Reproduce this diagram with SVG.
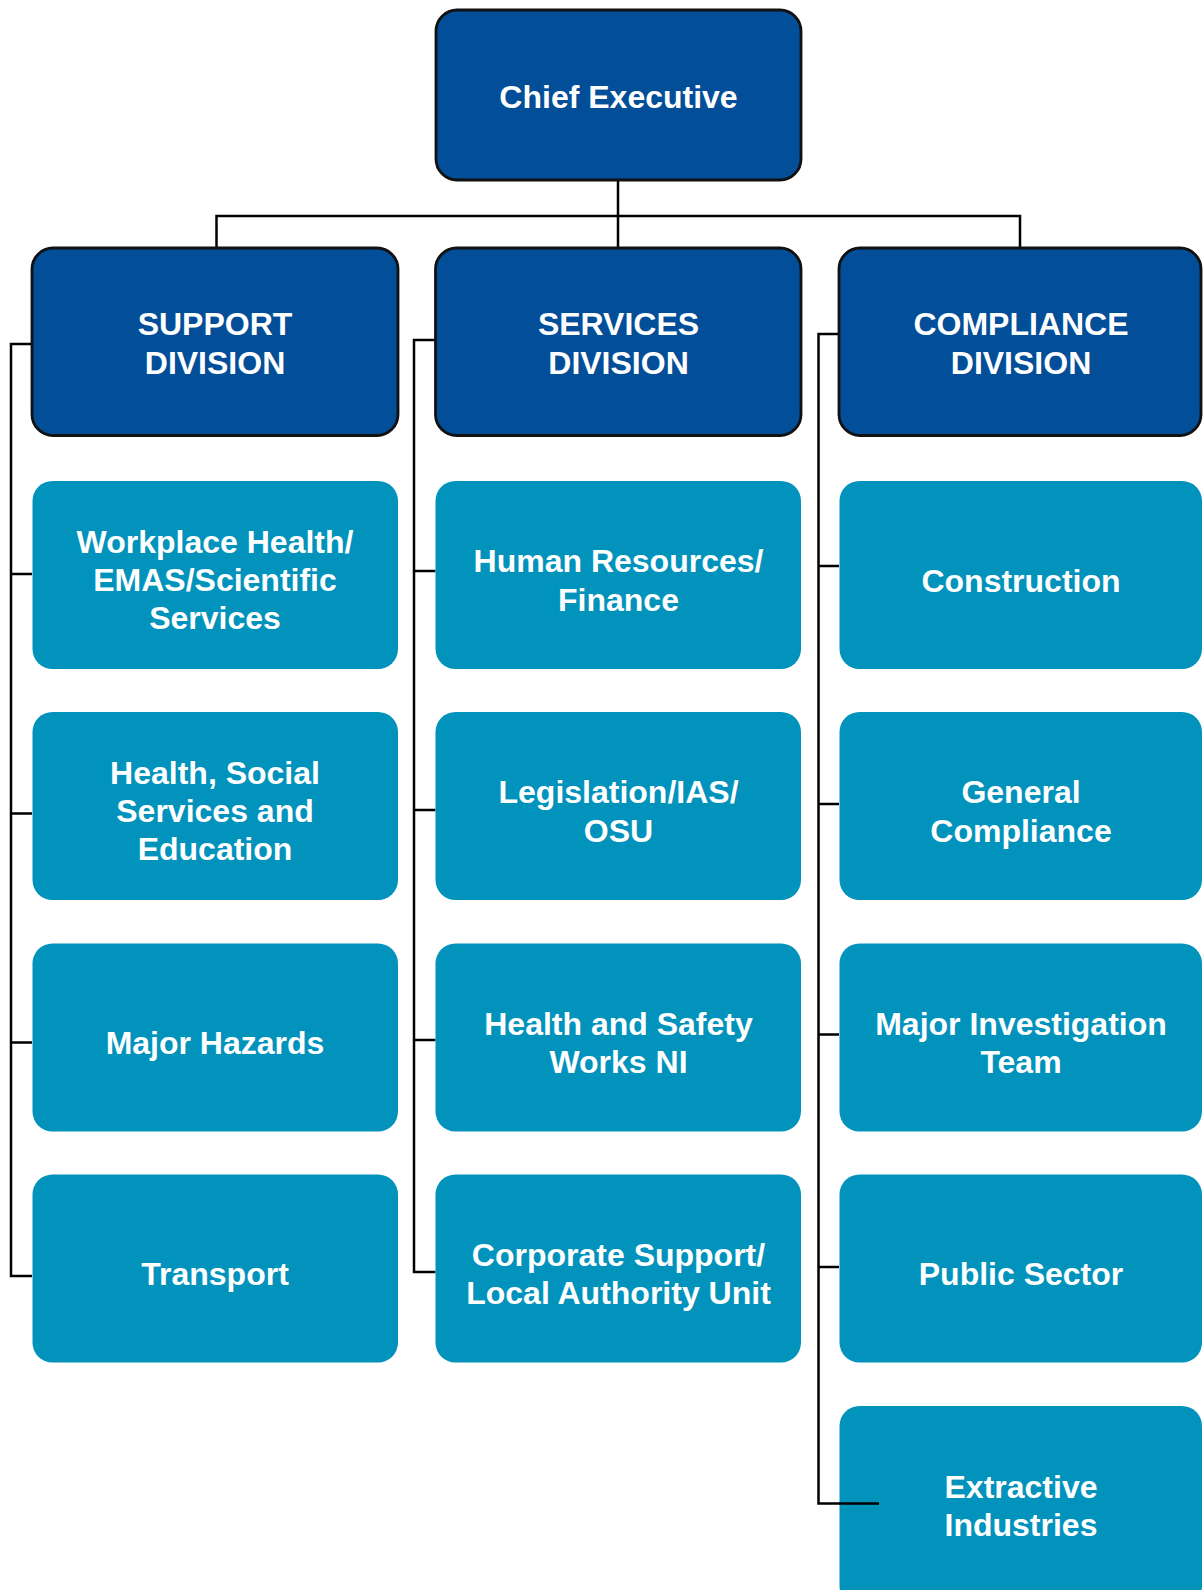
<svg xmlns="http://www.w3.org/2000/svg" width="1204" height="1590" viewBox="0 0 1204 1590">
  <style>
    .dark { fill: #034e98; stroke: #111; stroke-width: 2.8; }
    .unit { fill: #0293bc; }
    .lbl { font-family: "Liberation Sans", Arial, Helvetica, sans-serif; font-weight: bold; font-size: 32px; fill: #fff; text-anchor: middle; }
    .wire { fill: none; stroke: #000; stroke-width: 2.5; }
  </style>
  <rect width="1204" height="1590" fill="#fff"/>

  <!-- reporting lines -->
  <g id="connectors">
    <path class="wire" d="M618,180 V248 M216.5,248 V216 H1020 V248"/>
    <path class="wire" d="M32,344 H11 V1276 H32 M11,574 H32 M11,813.5 H32 M11,1042.5 H32"/>
    <path class="wire" d="M435.5,340 H414 V1272 H435.5 M414,571 H435.5 M414,810 H435.5 M414,1040 H435.5"/>
    <path class="wire" d="M839,334 H818.5 V1503.5 H879 M818.5,566 H839 M818.5,804 H839 M818.5,1034.5 H839 M818.5,1267 H839"/>
  </g>

  <!-- top level -->
  <g id="chief-executive">
    <rect class="dark" x="436" y="10" width="365" height="170" rx="21"/>
    <text class="lbl" x="618.5" y="107.5">Chief Executive</text>
  </g>

  <!-- divisions -->
  <g id="support-division">
    <rect class="dark" x="32" y="248" width="366" height="187.5" rx="21"/>
    <text class="lbl" x="215" y="335">SUPPORT</text>
    <text class="lbl" x="215" y="373.5">DIVISION</text>
  </g>
  <g id="services-division">
    <rect class="dark" x="435.5" y="248" width="365.5" height="187.5" rx="21"/>
    <text class="lbl" x="618.5" y="335">SERVICES</text>
    <text class="lbl" x="618.5" y="373.5">DIVISION</text>
  </g>
  <g id="compliance-division">
    <rect class="dark" x="839" y="248" width="362" height="187.5" rx="21"/>
    <text class="lbl" x="1021" y="335">COMPLIANCE</text>
    <text class="lbl" x="1021" y="373.5">DIVISION</text>
  </g>

  <!-- support division units -->
  <g id="workplace-health">
    <rect class="unit" x="32.5" y="481" width="365.5" height="188" rx="20"/>
    <text class="lbl" x="215" y="553">Workplace Health/</text>
    <text class="lbl" x="215" y="591">EMAS/Scientific</text>
    <text class="lbl" x="215" y="629">Services</text>
  </g>
  <g id="health-social">
    <rect class="unit" x="32.5" y="712" width="365.5" height="188" rx="20"/>
    <text class="lbl" x="215" y="784">Health, Social</text>
    <text class="lbl" x="215" y="822">Services and</text>
    <text class="lbl" x="215" y="860">Education</text>
  </g>
  <g id="major-hazards">
    <rect class="unit" x="32.5" y="943.5" width="365.5" height="188" rx="20"/>
    <text class="lbl" x="215" y="1054">Major Hazards</text>
  </g>
  <g id="transport">
    <rect class="unit" x="32.5" y="1174.5" width="365.5" height="188" rx="20"/>
    <text class="lbl" x="215" y="1285">Transport</text>
  </g>

  <!-- services division units -->
  <g id="hr-finance">
    <rect class="unit" x="435.5" y="481" width="365.5" height="188" rx="20"/>
    <text class="lbl" x="618.5" y="572">Human Resources/</text>
    <text class="lbl" x="618.5" y="610.5">Finance</text>
  </g>
  <g id="legislation">
    <rect class="unit" x="435.5" y="712" width="365.5" height="188" rx="20"/>
    <text class="lbl" x="618.5" y="803">Legislation/IAS/</text>
    <text class="lbl" x="618.5" y="841.5">OSU</text>
  </g>
  <g id="hsw-ni">
    <rect class="unit" x="435.5" y="943.5" width="365.5" height="188" rx="20"/>
    <text class="lbl" x="618.5" y="1034.5">Health and Safety</text>
    <text class="lbl" x="618.5" y="1073">Works NI</text>
  </g>
  <g id="corporate-support">
    <rect class="unit" x="435.5" y="1174.5" width="365.5" height="188" rx="20"/>
    <text class="lbl" x="618.5" y="1265.5">Corporate Support/</text>
    <text class="lbl" x="618.5" y="1304">Local Authority Unit</text>
  </g>

  <!-- compliance division units -->
  <g id="construction">
    <rect class="unit" x="839.5" y="481" width="362.5" height="188" rx="20"/>
    <text class="lbl" x="1021" y="591.5">Construction</text>
  </g>
  <g id="general-compliance">
    <rect class="unit" x="839.5" y="712" width="362.5" height="188" rx="20"/>
    <text class="lbl" x="1021" y="803">General</text>
    <text class="lbl" x="1021" y="841.5">Compliance</text>
  </g>
  <g id="major-investigation">
    <rect class="unit" x="839.5" y="943.5" width="362.5" height="188" rx="20"/>
    <text class="lbl" x="1021" y="1034.5">Major Investigation</text>
    <text class="lbl" x="1021" y="1073">Team</text>
  </g>
  <g id="public-sector">
    <rect class="unit" x="839.5" y="1174.5" width="362.5" height="188" rx="20"/>
    <text class="lbl" x="1021" y="1285">Public Sector</text>
  </g>
  <g id="extractive-industries">
    <rect class="unit" x="839.5" y="1406" width="362.5" height="200" rx="20"/>
    <path class="wire" d="M839,1503.5 H879"/>
    <text class="lbl" x="1021" y="1498">Extractive</text>
    <text class="lbl" x="1021" y="1536">Industries</text>
  </g>
</svg>
